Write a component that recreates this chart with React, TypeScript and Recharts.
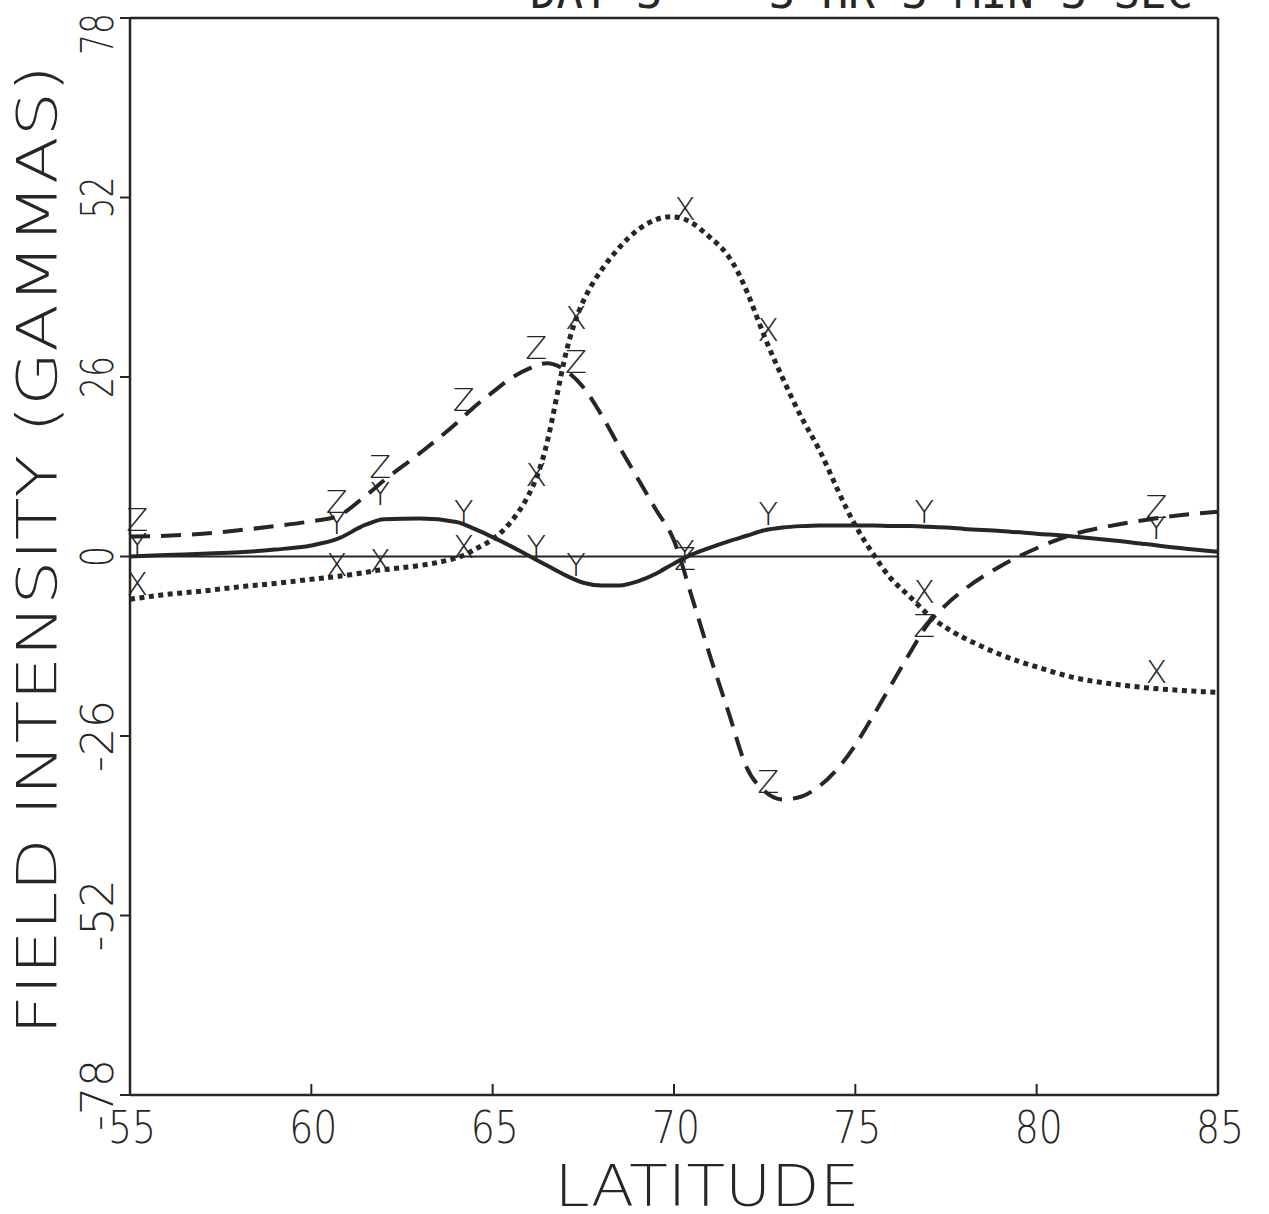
import React from "react";
import { ComposedChart, Line, XAxis, YAxis, ReferenceLine } from "recharts";

const lats = [55, 56, 57, 58, 59, 60, 60.7, 61.5, 62, 63, 64, 64.5, 65, 65.5, 66, 66.5, 67, 67.5, 68, 68.5, 69, 69.5, 70, 70.5, 71, 71.5, 72, 72.5, 73, 73.5, 74, 74.5, 75, 75.5, 76, 76.5, 77, 77.5, 78, 79, 80, 81, 82, 83, 84, 85];

const xField = [-6.2, -5.5, -5.0, -4.4, -3.9, -3.3, -2.9, -2.3, -1.9, -1.3, -0.2, 1.0, 2.5, 5.0, 9.0, 16.5, 29.0, 37.0, 41.5, 44.8, 47.3, 48.8, 49.2, 48.3, 46.2, 43.5, 38.5, 31.8, 25.8, 20.3, 15.5, 9.8, 4.5, 0.3, -3.3, -5.8, -8.4, -10.3, -11.8, -14.2, -16.0, -17.5, -18.4, -19.0, -19.4, -19.7];
const yField = [0, 0.2, 0.4, 0.6, 1.0, 1.6, 2.5, 4.6, 5.4, 5.5, 5.0, 4.0, 2.8, 1.5, 0.1, -1.3, -2.7, -3.8, -4.2, -4.2, -3.6, -2.5, -1.0, 0.3, 1.3, 2.2, 3.0, 3.8, 4.2, 4.4, 4.5, 4.5, 4.5, 4.5, 4.4, 4.4, 4.3, 4.2, 4.0, 3.7, 3.3, 2.9, 2.4, 1.8, 1.2, 0.7];
const zField = [2.9, 3.0, 3.3, 3.8, 4.4, 5.1, 5.8, 8.8, 11.0, 15.0, 19.3, 21.7, 23.8, 25.8, 27.2, 28.0, 27.0, 24.5, 20.5, 15.8, 11.3, 6.8, 2.3, -6.0, -14.5, -22.5, -30.5, -34.0, -35.2, -34.8, -33.3, -30.8, -27.3, -23.0, -18.5, -14.0, -9.8, -7.0, -4.8, -1.4, 1.2, 3.2, 4.4, 5.3, 6.0, 6.5];

// station markers (letter positions)
const stations = [55.2, 60.7, 61.9, 64.2, 66.2, 67.3, 70.3, 72.6, 76.9, 83.3];
const xMarks = [-4.0, -1.2, -0.7, 1.4, 11.8, 34.5, 50.4, 32.8, -5.2, -16.8];
const yMarks = [1.7, 4.9, 9.0, 6.5, 1.4, -1.2, 0.6, 6.1, 6.5, 4.2];
const zMarks = [5.3, 7.9, 13.0, 22.7, 30.2, 28.2, -0.4, -32.7, -10.1, 7.2];

const latTicks = [55, 60, 65, 70, 75, 80, 85];
const fieldTicks = [-78, -52, -26, 0, 26, 52, 78];

const ink = "#262626";
const font = "'DejaVu Sans', sans-serif";

const rows = (xs: number[], vals: number[]) => xs.map((lat, i) => ({ lat, v: vals[i] }));

const letterDot = (ch: string) => (p: any) => (
  <text key={`${ch}-${p.index}`} x={p.cx} y={p.cy} textAnchor="middle" dominantBaseline="central"
    fontFamily={font} fontWeight={200} fontSize={32} fill={ink}>{ch}</text>
);

function FieldTick({ y, payload }: any) {
  const label = String(payload.value);
  const top = payload.value === 78;
  const ty = top ? 13 : y;
  const len = label.replace("-", "").length * 21 + (label.startsWith("-") ? 30 : 0);
  return (
    <text x={97} y={ty} transform={`rotate(-90 97 ${ty})`} textAnchor={top ? "end" : "middle"}
      dominantBaseline="central" fontFamily={font} fontWeight={200} fontSize={44} fill={ink}
      textLength={len} lengthAdjust="spacingAndGlyphs">{label}</text>
  );
}

function LatTick({ x, payload }: any) {
  return (
    <g>
      <line x1={x} x2={x} y1={1095} y2={1084} stroke={ink} strokeWidth={2} />
      <text x={x + 2} y={1127} textAnchor="middle" dominantBaseline="central" fontFamily={font}
        fontWeight={200} fontSize={44} fill={ink} textLength={48} lengthAdjust="spacingAndGlyphs">{payload.value}</text>
    </g>
  );
}

export default function App() {
  return (
    <div style={{ position: "absolute", left: 0, top: 0, width: 1269, height: 1214, background: "#fff" }}>
      <ComposedChart width={1269} height={1214} margin={{ top: 18, right: 51, bottom: 79, left: 90 }}>
        <XAxis type="number" dataKey="lat" domain={[55, 85]} ticks={latTicks} height={40}
          axisLine={{ stroke: ink, strokeWidth: 2.5 }} tickLine={false} tick={<LatTick />} />
        <YAxis type="number" dataKey="v" domain={[-78, 78]} ticks={fieldTicks} width={40} tickSize={10}
          axisLine={{ stroke: ink, strokeWidth: 2.5 }} tickLine={{ stroke: ink, strokeWidth: 2 }} tick={<FieldTick />} />
        <ReferenceLine y={78} stroke={ink} strokeWidth={2.5} />
        <ReferenceLine x={85} stroke={ink} strokeWidth={2.5} />
        <ReferenceLine y={0} stroke={ink} strokeWidth={2} />
        <Line data={rows(lats, yField)} dataKey="v" type="monotone" stroke={ink} strokeWidth={4}
          dot={false} isAnimationActive={false} />
        <Line data={rows(lats, zField)} dataKey="v" type="monotone" stroke={ink} strokeWidth={4}
          strokeDasharray="20 11" dot={false} isAnimationActive={false} />
        <Line data={rows(lats, xField)} dataKey="v" type="natural" stroke={ink} strokeWidth={5}
          strokeDasharray="5 4.5" dot={false} isAnimationActive={false} />
        <Line data={rows(stations, xMarks)} dataKey="v" stroke="none" dot={letterDot("X")} isAnimationActive={false} />
        <Line data={rows(stations, yMarks)} dataKey="v" stroke="none" dot={letterDot("Y")} isAnimationActive={false} />
        <Line data={rows(stations, zMarks)} dataKey="v" stroke="none" dot={letterDot("Z")} isAnimationActive={false} />
      </ComposedChart>
      <svg width={1269} height={1214} style={{ position: "absolute", left: 0, top: 0, pointerEvents: "none" }}>
        <text x={530} y={8} fontFamily="'DejaVu Sans Mono', monospace" fontSize={44} fill={ink}
          textLength={663} lengthAdjust="spacingAndGlyphs" xmlSpace="preserve">DAY 3    3 HR 3 MIN 3 SEC</text>
        <text x={37} y={550} transform="rotate(-90 37 550)" textAnchor="middle" dominantBaseline="central"
          fontFamily={font} fontWeight={200} fontSize={55} fill={ink} textLength={970} lengthAdjust="spacingAndGlyphs">
          FIELD INTENSITY (GAMMAS)
        </text>
        <text x={707} y={1186} textAnchor="middle" dominantBaseline="central" fontFamily={font} fontWeight={200}
          fontSize={57} fill={ink} textLength={305} lengthAdjust="spacingAndGlyphs">LATITUDE</text>
      </svg>
    </div>
  );
}
